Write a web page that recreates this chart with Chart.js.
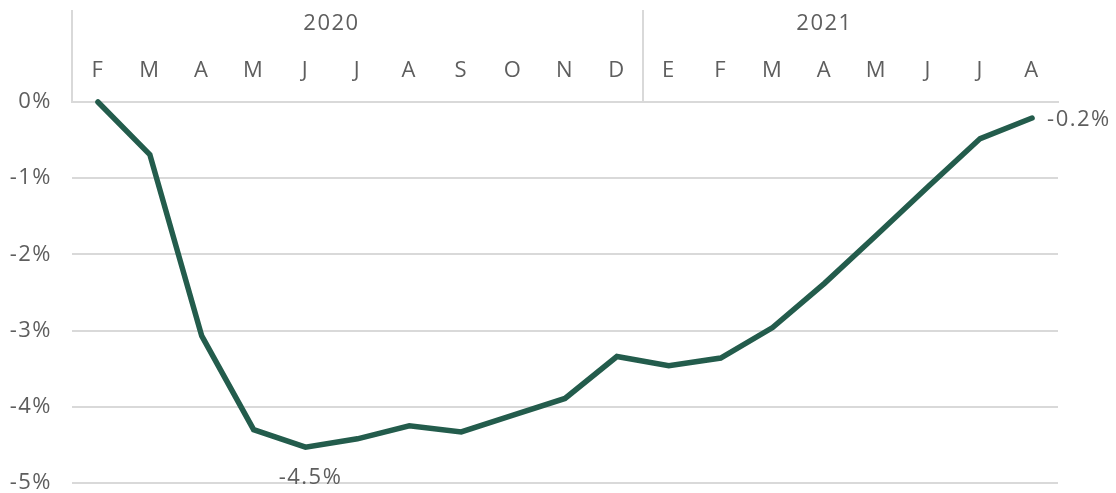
<!DOCTYPE html>
<html><head><meta charset="utf-8">
<script src="https://cdn.jsdelivr.net/npm/chart.js@4/dist/chart.umd.min.js"></script>
<style>html,body{margin:0;padding:0;background:#fff}#wrap{width:1116px;height:493px}</style>
</head><body><div id="wrap"><canvas id="c" width="1116" height="493"></canvas></div>
<script>
const months = ['F','M','A','M','J','J','A','S','O','N','D','E','F','M','A','M','J','J','A'];
const values = [0, -0.69, -3.07, -4.30, -4.53, -4.42, -4.25, -4.33, -4.11, -3.89, -3.34, -3.46, -3.36, -2.96, -2.38, -1.75, -1.11, -0.48, -0.21];
const yMin = -5, yMax = 0, yStep = 1;
const years = ['2020', '2021'];
const yearLabelAt = [4.5, 14];
const yearStartAt = [-0.5, 10.5];
const annotatedIdx = [4, 18];
const annotatedText = ['-4.5%', '-0.2%'];

const TEXT = '#5e5e5e';
const GRID = '#d9d9d9';
const FONT = "'Open Sans', sans-serif";

const spacingPlugin = {
  id: 'spacing',
  beforeInit(chart) { chart.ctx.letterSpacing = '1.5px'; },
  beforeDraw(chart) { chart.ctx.letterSpacing = '1.5px'; }
};

const headerPlugin = {
  id: 'header',
  afterDraw(chart) {
    const ctx = chart.ctx;
    const xs = chart.scales.x;
    const top = chart.chartArea.top;
    ctx.save();
    ctx.letterSpacing = '1.5px';
    ctx.strokeStyle = GRID;
    ctx.lineWidth = 2;
    yearStartAt.forEach(v => {
      const px = Math.round(xs.getPixelForValue(v));
      ctx.beginPath();
      ctx.moveTo(px, 10);
      ctx.lineTo(px, top);
      ctx.stroke();
    });
    ctx.fillStyle = TEXT;
    ctx.font = "22px " + FONT;
    ctx.textAlign = 'center';
    ctx.textBaseline = 'middle';
    years.forEach((y, i) => {
      ctx.fillText(y, xs.getPixelForValue(yearLabelAt[i]), 24);
    });
    const meta = chart.getDatasetMeta(0);
    annotatedIdx.forEach((idx, i) => {
      const p = meta.data[idx];
      if (i === 0) {
        ctx.textAlign = 'center';
        ctx.fillText(annotatedText[i], p.x + 5, p.y + 31);
      } else {
        ctx.textAlign = 'left';
        ctx.fillText(annotatedText[i], p.x + 15, p.y + 2);
      }
    });
    ctx.restore();
  }
};

new Chart(document.getElementById('c'), {
  type: 'line',
  data: {
    labels: months,
    datasets: [{
      data: values,
      borderColor: '#235c4c',
      borderWidth: 5.5,
      pointRadius: 0,
      tension: 0,
      borderCapStyle: 'round',
      borderJoinStyle: 'miter',
      clip: false
    }]
  },
  options: {
    responsive: false,
    animation: false,
    events: [],
    layout: { padding: { top: 0, right: 58, bottom: 10, left: 0 } },
    plugins: { legend: { display: false }, tooltip: { enabled: false } },
    scales: {
      x: {
        position: 'top',
        offset: true,
        grid: { display: false, drawTicks: false },
        border: { display: true, color: GRID, width: 2 },
        ticks: { color: TEXT, font: { family: FONT, size: 22 }, padding: 18, maxRotation: 0, autoSkip: false },
        afterFit(s) { s.height = 102; s.paddingLeft = 0; s.paddingRight = 0; }
      },
      y: {
        min: yMin, max: yMax,
        grid: { color: GRID, lineWidth: 2, drawTicks: false },
        border: { display: false },
        ticks: { stepSize: yStep, color: TEXT, font: { family: FONT, size: 22 }, padding: 20, callback: v => v + '%' },
        afterFit(s) { s.width = 72; s.paddingTop = 0; s.paddingBottom = 0; }
      }
    }
  },
  plugins: [spacingPlugin, headerPlugin]
});
</script>
</body></html>
